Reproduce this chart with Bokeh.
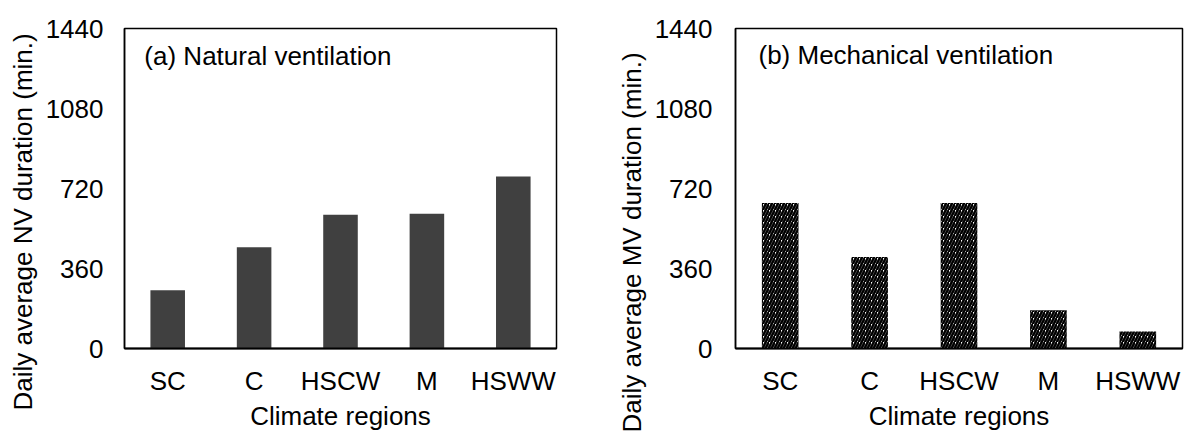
from bokeh.plotting import figure
from bokeh.models import FactorRange, Range1d, FixedTicker, Label, Title
from bokeh.layouts import row
from bokeh.embed import file_html
from bokeh.resources import INLINE

regions = ["SC", "C", "HSCW", "M", "HSWW"]
nv_minutes = [262, 456, 602, 606, 774]
mv_minutes = [655, 412, 655, 172, 77]
y_ticks = [0, 360, 720, 1080, 1440]

FONT = "Liberation Sans"
FS = "26px"


def make_panel(width, borders, values, title, ylabel, ylab_offset, title_pos, ystandoff, hatched):
    left, right, top, bottom = borders
    p = figure(x_range=FactorRange(*regions), y_range=Range1d(0, 1440),
               width=width, height=435, output_backend="svg", toolbar_location=None,
               min_border_left=left, min_border_right=right,
               min_border_top=top, min_border_bottom=bottom)
    p.x_range.range_padding = 0
    p.x_range.factor_padding = 0
    if hatched:
        p.vbar(x=regions, top=values, width=0.41, fill_color="white", line_color=None,
               hatch_pattern="right_diagonal_line", hatch_color="black",
               hatch_weight=2.5, hatch_scale=6)
    else:
        p.vbar(x=regions, top=values, width=0.40, fill_color="#404040", line_color=None)

    p.xgrid.grid_line_color = None
    p.ygrid.grid_line_color = None
    p.outline_line_color = "black"
    p.outline_line_width = 1.5

    for ax in (p.xaxis[0], p.yaxis[0]):
        ax.major_tick_out = 0
        ax.major_tick_in = 0
        ax.minor_tick_out = 0
        ax.minor_tick_in = 0
        ax.major_label_text_font = FONT
        ax.major_label_text_font_size = FS
        ax.major_label_text_color = "black"
        ax.axis_line_color = "black"
        ax.axis_line_width = 1.5
    p.xaxis.axis_line_width = 2

    p.yaxis.ticker = FixedTicker(ticks=y_ticks)
    p.yaxis.major_label_standoff = ystandoff
    p.xaxis.major_label_standoff = 17
    p.xaxis.axis_label = "Climate regions"
    p.xaxis.axis_label_text_font = FONT
    p.xaxis.axis_label_text_font_size = FS
    p.xaxis.axis_label_text_font_style = "normal"
    p.xaxis.axis_label_text_color = "black"
    p.xaxis.axis_label_standoff = 2

    p.add_layout(Title(text=ylabel, align="left", offset=ylab_offset,
                       text_font=FONT, text_font_size=FS, text_font_style="normal",
                       text_color="black"), "left")
    p.add_layout(Label(x=title_pos[0], y=title_pos[1], text=title,
                       text_align="left", text_baseline="middle",
                       text_font=FONT, text_font_size=FS, text_color="black"))
    return p


p1 = make_panel(595, (122, 39, 28, 87), nv_minutes, "(a) Natural ventilation",
                "Daily average NV duration (min.)", -62, (0.23, 1318), 21, False)
p2 = make_panel(594, (140, 7, 26, 79), mv_minutes, "(b) Mechanical ventilation",
                "Daily average MV duration (min.)", -84, (0.257, 1322), 23, True)

layout = row(p1, p2)
open("out.html", "w").write(file_html(layout, INLINE))
